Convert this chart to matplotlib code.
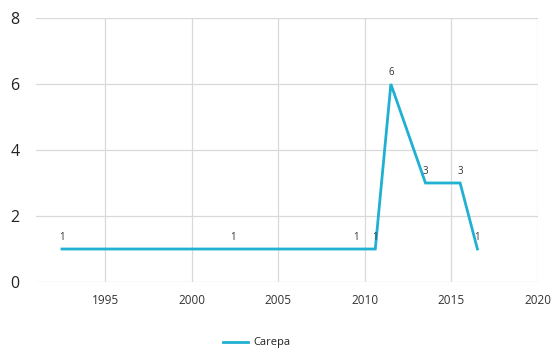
import matplotlib
matplotlib.use("Agg")
import matplotlib.pyplot as plt

# data
years = [1992.5, 2002.4, 2009.5, 2010.6, 2011.5, 2013.5, 2015.5, 2016.5]
values = [1, 1, 1, 1, 6, 3, 3, 1]
series_name = "Carepa"
x_ticks = [1995, 2000, 2005, 2010, 2015, 2020]
y_ticks = [0, 2, 4, 6, 8]

plt.rcParams['font.family'] = ['Open Sans', 'DejaVu Sans']

fig = plt.figure(figsize=(5.6, 3.52), dpi=100)
ax = fig.add_axes([36 / 560, 1 - 282 / 352, (538 - 36) / 560, (282 - 18) / 352])

line_color = '#1fb0d2'
ax.plot(years, values, color=line_color, lw=2.0, label=series_name,
        solid_joinstyle='miter', zorder=3)

for x, y in zip(years, values):
    ax.annotate(str(y), (x, y), xytext=(0, 4), textcoords='offset points',
                ha='center', va='bottom', fontsize=7, color='#333333', zorder=4)

ax.set_xlim(1991, 2020)
ax.set_ylim(0, 8)
ax.set_xticks(x_ticks)
ax.set_yticks(y_ticks)
ax.grid(True, color='#d9d9d9', lw=0.9)
ax.set_axisbelow(True)
for s in ax.spines.values():
    s.set_visible(False)
ax.tick_params(axis='both', length=0)
ax.tick_params(axis='x', labelsize=8.5, pad=9, labelcolor='#333333')
ax.tick_params(axis='y', labelsize=11.5, pad=12, labelcolor='#222222')

fig.legend(loc='center', bbox_to_anchor=(257 / 560, 1 - 343 / 352), frameon=False,
           fontsize=8, handlelength=2.2, handletextpad=0.5, labelcolor='#222222')

fig.savefig('out.png', dpi=100)
